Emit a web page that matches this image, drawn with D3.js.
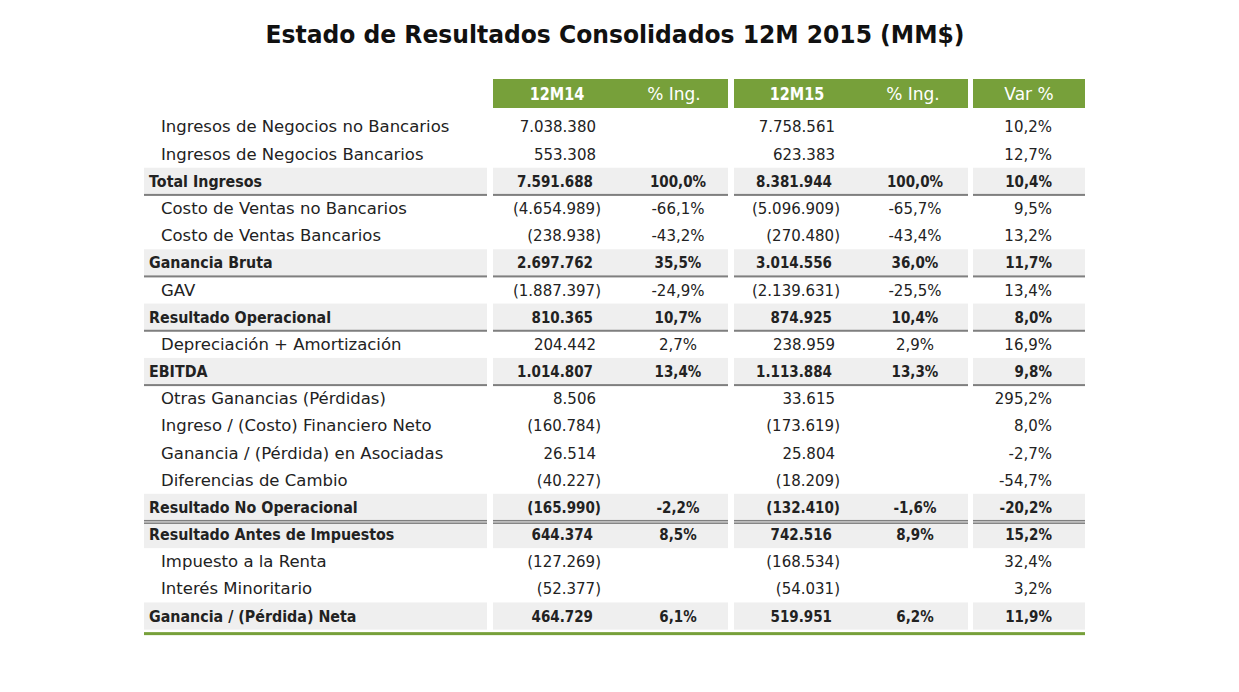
<!DOCTYPE html>
<html><head><meta charset="utf-8">
<script src="https://cdn.jsdelivr.net/npm/d3@7"></script>
<style>body{margin:0;background:#fff}svg{display:block}</style>
</head><body>
<script>
const title = "Estado de Resultados Consolidados 12M 2015 (MM$)";
const headers = ["12M14", "% Ing.", "12M15", "% Ing.", "Var %"];
const labels = ["Ingresos de Negocios no Bancarios","Ingresos de Negocios Bancarios","Total Ingresos","Costo de Ventas no Bancarios","Costo de Ventas Bancarios","Ganancia Bruta","GAV","Resultado Operacional","Depreciación + Amortización","EBITDA","Otras Ganancias (Pérdidas)","Ingreso / (Costo) Financiero Neto","Ganancia / (Pérdida) en Asociadas","Diferencias de Cambio","Resultado No Operacional","Resultado Antes de Impuestos","Impuesto a la Renta","Interés Minoritario","Ganancia / (Pérdida) Neta"];
const boldRows = [false,false,true,false,false,true,false,true,false,true,false,false,false,false,true,true,false,false,true];
const rowRule = ["","","single","","","single","","single","","single","","","","","double","","","","green"];
const v14 = [7038380,553308,7591688,-4654989,-238938,2697762,-1887397,810365,204442,1014807,8506,-160784,26514,-40227,-165990,644374,-127269,-52377,464729];
const p14 = [null,null,100.0,-66.1,-43.2,35.5,-24.9,10.7,2.7,13.4,null,null,null,null,-2.2,8.5,null,null,6.1];
const v15 = [7758561,623383,8381944,-5096909,-270480,3014556,-2139631,874925,238959,1113884,33615,-173619,25804,-18209,-132410,742516,-168534,-54031,519951];
const p15 = [null,null,100.0,-65.7,-43.4,36.0,-25.5,10.4,2.9,13.3,null,null,null,null,-1.6,8.9,null,null,6.2];
const varp = [10.2,12.7,10.4,9.5,13.2,11.7,13.4,8.0,16.9,9.8,295.2,8.0,-2.7,-54.7,-20.2,15.2,32.4,3.2,11.9];

const W = 1239, H = 692;
const GREEN = "#77a03a", GRAY_BG = "#efefef", RULE = "#7f7f7f";
const FONT = "'DejaVu Sans', sans-serif";
const loc = d3.formatLocale({decimal: ",", thousands: ".", grouping: [3], currency: ["$", ""], minus: "-"});
const fInt = loc.format(",d"), fPct = loc.format(".1f");
const fmtV = v => v < 0 ? "(" + fInt(-v) + ")" : fInt(v);
const fmtP = v => v == null ? "" : fPct(v) + "%";

const svg = d3.select("body").append("svg").attr("width", W).attr("height", H);

svg.append("text").attr("x", 615).attr("y", 43).attr("text-anchor", "middle")
  .attr("font-family", FONT).attr("font-weight", "bold").attr("font-size", 25)
  .attr("textLength", 699).attr("lengthAdjust", "spacingAndGlyphs")
  .attr("fill", "#111").text(title);

const blocks = [[144, 487], [493, 728], [734, 968], [973, 1085]];
const y = d3.scaleBand().domain(d3.range(labels.length)).range([113.4, 113.4 + 27.17 * labels.length]);

function condense(sel, k) {
  const w = sel.node().getComputedTextLength();
  sel.attr("textLength", w * k).attr("lengthAdjust", "spacingAndGlyphs");
}

// header boxes
const hdr = svg.append("g");
blocks.slice(1).forEach(b => hdr.append("rect").attr("x", b[0]).attr("y", 79).attr("width", b[1] - b[0]).attr("height", 29).attr("fill", GREEN));
const hx = [557, 674, 797, 913, 1029];
headers.forEach((h, i) => {
  const bold = (i === 0 || i === 2);
  const s = hdr.append("text").attr("x", hx[i]).attr("y", 100).attr("text-anchor", "middle")
    .attr("font-family", FONT).attr("font-size", 17).attr("font-weight", bold ? "bold" : "normal")
    .attr("fill", "#fff").text(h);
  if (bold) condense(s, 0.85);
});

const bgLayer = svg.append("g"), ruleLayer = svg.append("g"), textLayer = svg.append("g");
const h = y.bandwidth();

labels.forEach((d, i) => {
  const top = y(i);
  if (boldRows[i]) blocks.forEach(b => bgLayer.append("rect").attr("x", b[0]).attr("y", top).attr("width", b[1] - b[0]).attr("height", h).attr("fill", GRAY_BG));
  if (rowRule[i] === "single") blocks.forEach(b => ruleLayer.append("rect").attr("x", b[0]).attr("y", top + h - 1).attr("width", b[1] - b[0]).attr("height", 2).attr("fill", RULE));
  if (rowRule[i] === "double") blocks.forEach(b => {
    ruleLayer.append("rect").attr("x", b[0]).attr("y", top + h - 1).attr("width", b[1] - b[0]).attr("height", 1.5).attr("fill", RULE);
    ruleLayer.append("rect").attr("x", b[0]).attr("y", top + h + 1.5).attr("width", b[1] - b[0]).attr("height", 1.5).attr("fill", RULE);
  });
  if (rowRule[i] === "green") ruleLayer.append("rect").attr("x", 144).attr("y", top + h + 2.5).attr("width", 941).attr("height", 3).attr("fill", GREEN);

  const bold = boldRows[i];
  const t = (x, s, anchor, size, k) => {
    const el = textLayer.append("text").attr("x", x).attr("y", top + h / 2 + 5.5).attr("text-anchor", anchor)
      .attr("font-family", FONT).attr("font-size", size).attr("font-weight", bold ? "bold" : "normal").attr("fill", "#222").text(s);
    if (bold && s) condense(el, k);
  };
  t(bold ? 149 : 161, d, "start", bold ? 15.5 : 16.5, 0.92);
  const ns = bold ? 15.5 : 15;
  t(v14[i] < 0 ? 601 : (bold ? 593 : 596), fmtV(v14[i]), "end", ns, 0.87);
  t(678, fmtP(p14[i]), "middle", ns, 0.87);
  t(v15[i] < 0 ? 840 : (bold ? 832 : 835), fmtV(v15[i]), "end", ns, 0.87);
  t(915, fmtP(p15[i]), "middle", ns, 0.87);
  t(1052, fmtP(varp[i]), "end", ns, 0.87);
});
</script>
</body></html>
